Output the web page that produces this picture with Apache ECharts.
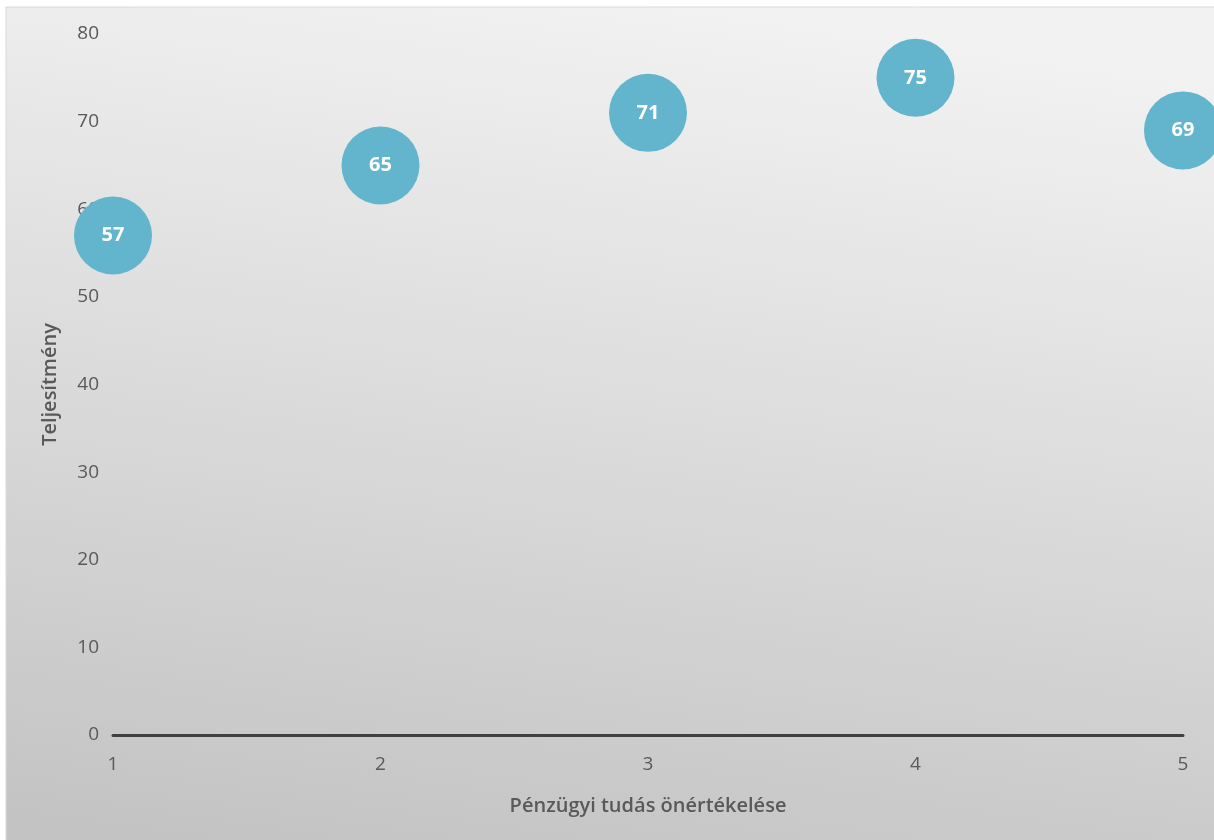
<!DOCTYPE html>
<html>
<head>
<meta charset="utf-8">
<script src="https://cdn.jsdelivr.net/npm/echarts@6/dist/echarts.min.js"></script>
<style>
  html, body { margin: 0; padding: 0; background: #fff; }
  #bubbleChart { width: 1214px; height: 840px; }
</style>
</head>
<body>
<div id="bubbleChart"></div>
<script>
var myChart = echarts.init(document.getElementById('bubbleChart'));

// önértékelés (x) és teljesítmény (y)
var selfRating = [1, 2, 3, 4, 5];
var performance = [57, 65, 71, 75, 69];
var yTicks = [0, 10, 20, 30, 40, 50, 60, 70, 80];

var points = [];
for (var i = 0; i < selfRating.length; i++) {
    points.push([selfRating[i], performance[i]]);
}

var textFont = '"Open Sans", "Noto Sans", sans-serif';

option = {
    animation: false,
    textStyle: {
        fontFamily: textFont
    },
    graphic: [
        {
            type: 'rect',
            z: -10,
            silent: true,
            shape: { x: 6, y: 7, width: 1300, height: 900 },
            style: {
                fill: new echarts.graphic.LinearGradient(0.55, 0, 0.45, 1, [
                    { offset: 0, color: '#f2f2f2' },
                    { offset: 1, color: '#c3c3c3' }
                ]),
                stroke: '#d9d9d9',
                lineWidth: 1
            }
        }
    ],
    grid: {
        left: 113,
        right: 31,
        top: 34,
        bottom: 105
    },
    xAxis: {
        type: 'value',
        min: selfRating[0],
        max: selfRating[selfRating.length - 1],
        interval: 1,
        name: 'Pénzügyi tudás önértékelése',
        nameLocation: 'middle',
        nameGap: 61,
        nameTextStyle: {
            color: '#595959',
            fontSize: 20,
            fontWeight: 600
        },
        axisLine: {
            onZero: true,
            lineStyle: { color: '#404040', width: 3 }
        },
        axisTick: { show: false },
        splitLine: { show: false },
        axisLabel: {
            color: '#595959',
            fontSize: 19,
            margin: 20
        }
    },
    yAxis: {
        type: 'value',
        min: yTicks[0],
        max: yTicks[yTicks.length - 1],
        interval: 10,
        name: 'Teljesítmény',
        nameLocation: 'middle',
        nameGap: 53,
        nameTextStyle: {
            color: '#595959',
            fontSize: 20,
            fontWeight: 600
        },
        axisLine: { show: false },
        axisTick: { show: false },
        splitLine: { show: false },
        axisLabel: {
            color: '#595959',
            fontSize: 19,
            margin: 14
        }
    },
    series: [
        {
            name: 'Teljesítmény',
            type: 'scatter',
            data: points,
            symbolSize: 78,
            clip: false,
            itemStyle: {
                color: '#62b5cc',
                opacity: 1
            },
            label: {
                show: true,
                position: 'inside',
                formatter: function (p) { return p.value[1]; },
                color: '#ffffff',
                fontSize: 20,
                fontWeight: 'bold'
            }
        }
    ]
};

myChart.setOption(option);
</script>
</body>
</html>
